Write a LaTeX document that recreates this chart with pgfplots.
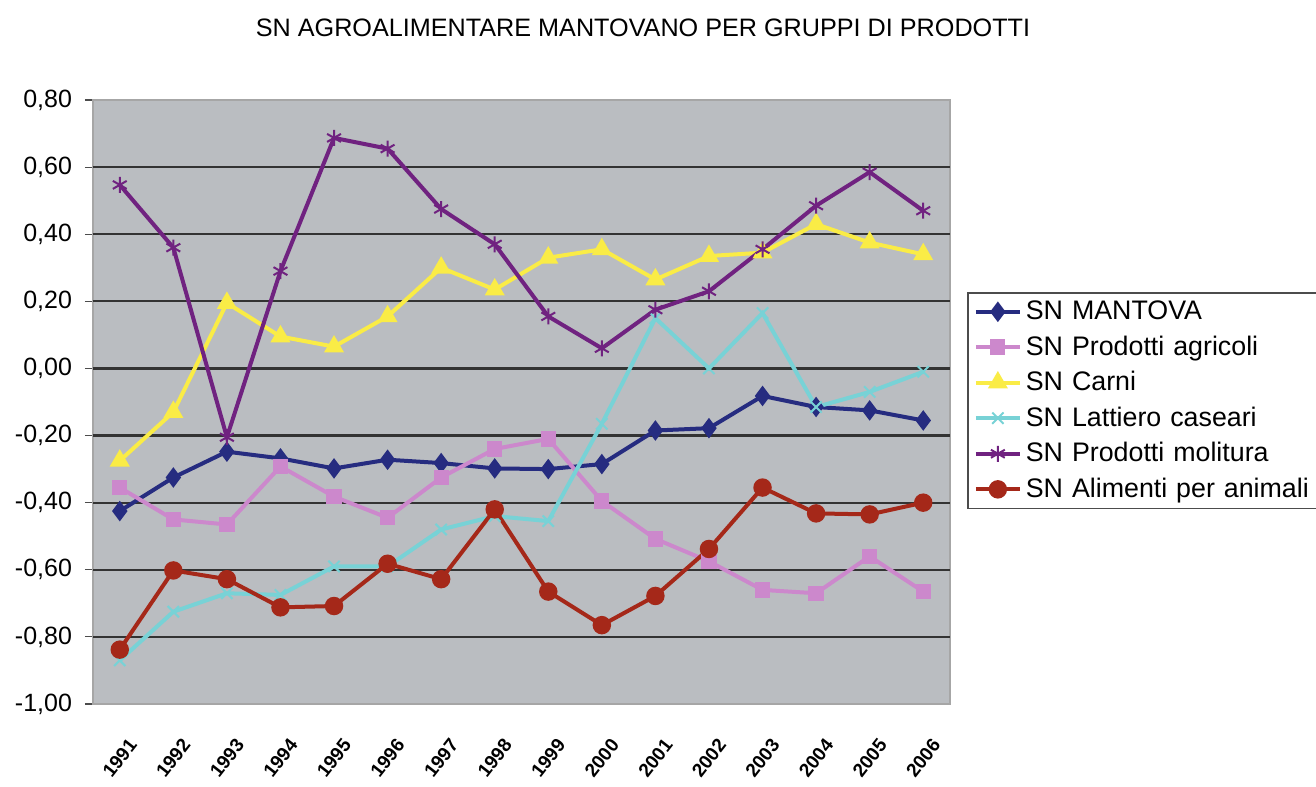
\documentclass[border=0pt]{standalone}
\usepackage{pgfplots}
\pgfplotsset{compat=1.18}
\usepackage{fontspec}
\setmainfont{Liberation Sans}
\definecolor{plotbg}{RGB}{186,189,193}
\definecolor{cmant}{RGB}{38,44,128}
\definecolor{cagri}{RGB}{204,136,204}
\definecolor{ccarni}{RGB}{250,236,70}
\definecolor{clatt}{RGB}{120,210,214}
\definecolor{cmol}{RGB}{112,34,128}
\definecolor{calim}{RGB}{165,40,25}
\begin{document}
\begin{tikzpicture}
\path[use as bounding box] (-46.5bp,-41.5bp) rectangle (611.5bp,352bp);
\begin{axis}[
  at={(0,0)}, anchor=south west,
  scale only axis, width=428.5bp, height=302bp,
  xmin=-0.5, xmax=15.5, ymin=-1, ymax=0.8,
  axis background/.style={fill=plotbg},
  axis line style={draw=gray!70, line width=0.8bp},
  ytick={-1,-0.8,-0.6,-0.4,-0.2,0,0.2,0.4,0.6,0.8},
  extra y ticks={-0.8,-0.6,-0.4,-0.2,0,0.2,0.4,0.6},
  extra y tick labels={},
  extra y tick style={grid=major, major tick length=0pt},
  grid style={black!80, line width=1.1bp},
  ytick pos=left, tick align=outside, major tick length=4bp,
  tick style={black!70, line width=0.6bp},
  xtick={0,...,15},
  xticklabels={1991,1992,1993,1994,1995,1996,1997,1998,1999,2000,2001,2002,2003,2004,2005,2006},
  xtick style={draw=none},
  xticklabel shift=23bp,
  xticklabel style={rotate=52, anchor=center, inner sep=0pt, font=\fontsize{9.5bp}{10bp}\selectfont\bfseries},
  yticklabel style={font=\fontsize{12.5bp}{14bp}\selectfont, xshift=-3bp},
  /pgf/number format/.cd, fixed, fixed zerofill, precision=2, use comma, assume math mode=true,
  /pgfplots/.cd,
  legend style={at={(1.0198,0.682)}, anchor=north west, draw=black!70, line width=0.9bp,
    fill=white, font=\fontsize{13.4bp}{16bp}\selectfont, inner xsep=3bp, inner ysep=2bp,
    row sep=2.6bp, text width=142bp},
  legend cell align=left,
  legend image code/.code={\draw[#1, mark repeat=2, mark phase=2] plot coordinates {(0bp,0bp) (11bp,0bp) (22bp,0bp)};},
  every axis plot/.append style={line width=2bp},
]
\addplot[cmant, mark=diamond*, mark size=3.5bp] coordinates {
(0,-0.425) (1,-0.325) (2,-0.248) (3,-0.268) (4,-0.298) (5,-0.272) (6,-0.282) (7,-0.298)
(8,-0.300) (9,-0.285) (10,-0.185) (11,-0.178) (12,-0.082) (13,-0.115) (14,-0.125) (15,-0.155)};
\addlegendentry{SN MANTOVA}
\addplot[cagri, mark=square*, mark size=2.8bp] coordinates {
(0,-0.355) (1,-0.450) (2,-0.465) (3,-0.292) (4,-0.382) (5,-0.445) (6,-0.325) (7,-0.240)
(8,-0.210) (9,-0.395) (10,-0.508) (11,-0.575) (12,-0.660) (13,-0.670) (14,-0.560) (15,-0.665)};
\addlegendentry{SN Prodotti agricoli}
\addplot[ccarni, mark=triangle*, mark size=3.8bp] coordinates {
(0,-0.275) (1,-0.130) (2,0.195) (3,0.095) (4,0.065) (5,0.155) (6,0.300) (7,0.235)
(8,0.330) (9,0.355) (10,0.265) (11,0.335) (12,0.345) (13,0.430) (14,0.375) (15,0.340)};
\addlegendentry{SN Carni}
\addplot[clatt, mark=x, mark size=4bp, mark options={line width=1bp}] coordinates {
(0,-0.870) (1,-0.725) (2,-0.670) (3,-0.675) (4,-0.590) (5,-0.590) (6,-0.480) (7,-0.440)
(8,-0.455) (9,-0.165) (10,0.150) (11,0.000) (12,0.165) (13,-0.115) (14,-0.070) (15,-0.010)};
\addlegendentry{SN Lattiero caseari}
\addplot[cmol, mark=asterisk, mark size=4bp, mark options={line width=1bp}] coordinates {
(0,0.547) (1,0.360) (2,-0.205) (3,0.290) (4,0.687) (5,0.655) (6,0.475) (7,0.370)
(8,0.155) (9,0.060) (10,0.175) (11,0.230) (12,0.355) (13,0.485) (14,0.585) (15,0.470)};
\addlegendentry{SN Prodotti molitura}
\addplot[calim, mark=*, mark size=3.6bp] coordinates {
(0,-0.838) (1,-0.602) (2,-0.628) (3,-0.712) (4,-0.708) (5,-0.582) (6,-0.628) (7,-0.420)
(8,-0.665) (9,-0.765) (10,-0.678) (11,-0.538) (12,-0.355) (13,-0.432) (14,-0.435) (15,-0.400)};
\addlegendentry{SN Alimenti per animali}
\end{axis}
\node[font=\fontsize{12.6bp}{14bp}\selectfont] at (275bp,338bp) {SN AGROALIMENTARE MANTOVANO PER GRUPPI DI PRODOTTI};
\end{tikzpicture}
\end{document}
